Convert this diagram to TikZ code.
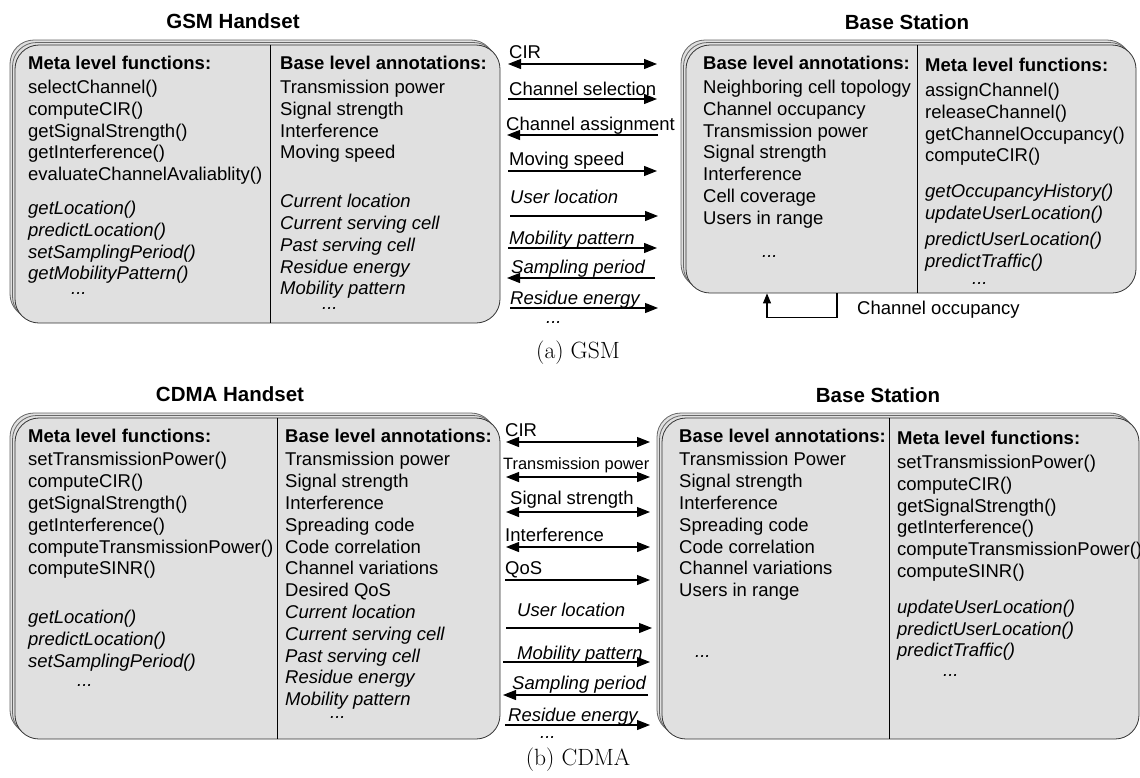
\documentclass[tikz,border=0pt]{standalone}
\usepackage{fontspec}
\setsansfont{Liberation Sans}
\usepackage{tikz}
\usetikzlibrary{arrows.meta,shadows}

\begin{document}
\begin{tikzpicture}[
    x=1pt, y=-1pt,
    >={Triangle[length=13pt, width=10pt]},
    card/.style    ={draw=black!80, line width=0.8pt, rounded corners=24pt,
                     fill=black!12, inner sep=0pt,
                     copy shadow={shadow xshift=-5pt, shadow yshift=5pt,
                                  fill=black!12, draw=black!60, line width=0.8pt},
                     copy shadow={shadow xshift=-2.5pt, shadow yshift=2.5pt,
                                  fill=black!12, draw=black!60, line width=0.8pt}},
    divider/.style ={draw=black, line width=1pt},
    title/.style   ={font=\sffamily\bfseries\fontsize{20.5}{24}\selectfont, inner sep=0pt},
    col/.style     ={anchor=north west, align=left, inner sep=0pt,
                     font=\sffamily\fontsize{18.5}{21.8}\selectfont},
    msglbl/.style  ={anchor=base west, inner sep=0pt,
                     font=\sffamily\fontsize{18.5}{21.8}\selectfont},
    msg/.style     ={->, line width=1.1pt},
    capt/.style    ={font=\rmfamily\fontsize{23.5}{28}\selectfont, inner sep=0pt}
]
\useasboundingbox (0,0) rectangle (1140,777);

% --- (a) GSM: handset and base station cards ---
\node[card, minimum width=485pt, minimum height=278pt] (gsmhs) at (257.5,184) {};
\node[card, minimum width=450pt, minimum height=248pt] (gsmbs) at (911,169) {};
\draw[divider] ([xshift=12.5pt]gsmhs.north) -- ([xshift=12.5pt]gsmhs.south);
\draw[divider] ([xshift=6pt]gsmbs.north) -- ([xshift=6pt]gsmbs.south);

\node[title] (gsmhstitle) at (233,21) {GSM Handset};
\node[title] (gsmbstitle) at (907,22) {Base Station};

\node[col] (gsmhsmeta) at (28,56) {\textbf{Meta level functions:}\\[2pt]
  selectChannel()\\ computeCIR()\\ getSignalStrength()\\ getInterference()\\
  evaluateChannelAvaliablity()\\[12pt]
  \textit{getLocation()}\\ \textit{predictLocation()}\\
  \textit{setSamplingPeriod()}\\ \textit{getMobilityPattern()}\\[-7pt]
  \hspace{43pt}\textit{...}};
\node[col] (gsmhsbase) at (280,56) {\textbf{Base level annotations:}\\[2pt]
  Transmission power\\ Signal strength\\ Interference\\ Moving speed\\[27pt]
  \textit{Current location}\\ \textit{Current serving cell}\\
  \textit{Past serving cell}\\ \textit{Residue energy}\\
  \textit{Mobility pattern}\\[-7pt]
  \hspace{42pt}\textit{...}};
\node[col] (gsmbsbase) at (703,56) {\textbf{Base level annotations:}\\[2pt]
  Neighboring cell topology\\ Channel occupancy\\ Transmission power\\
  Signal strength\\ Interference\\ Cell coverage\\ Users in range\\[11pt]
  \hspace{59pt}\textit{...}};
\node[col] (gsmbsmeta) at (925,58) {\textbf{Meta level functions:}\\[3pt]
  assignChannel()\\ releaseChannel()\\ getChannelOccupancy()\\ computeCIR()\\[14pt]
  \textit{getOccupancyHistory()}\\ \textit{updateUserLocation()}\\[4pt]
  \textit{predictUserLocation()}\\ \textit{predictTraffic()}\\[-4pt]
  \hspace{47pt}\textit{...}};

% --- (a) GSM: messages between handset and base station ---
\coordinate (ga1) at (508,64);  \coordinate (gb1) at (657,64);
\coordinate (ga2) at (508,99);  \coordinate (gb2) at (657,99);
\coordinate (ga3) at (507,135); \coordinate (gb3) at (658,135);
\coordinate (ga4) at (508,171); \coordinate (gb4) at (657,171);
\coordinate (ga5) at (510,216); \coordinate (gb5) at (658,216);
\coordinate (ga6) at (508,248); \coordinate (gb6) at (657,248);
\coordinate (ga7) at (507,278); \coordinate (gb7) at (655,278);
\coordinate (ga8) at (510,308); \coordinate (gb8) at (658,308);

\node[msglbl] (gl1) at (509,58.6)  {CIR};
\node[msglbl] (gl2) at (509,95.6)  {Channel selection};
\node[msglbl] (gl3) at (506,130.6) {Channel assignment};
\node[msglbl] (gl4) at (509,165.6) {Moving speed};
\node[msglbl] (gl5) at (510,203.6) {\textit{User location}};
\node[msglbl] (gl6) at (509,244.6) {\textit{Mobility pattern}};
\node[msglbl] (gl7) at (511,273.6) {\textit{Sampling period}};
\node[msglbl] (gl8) at (510,304.6) {\textit{Residue energy}};
\node[msglbl] (gl9) at (546,323)   {\textit{...}};

\draw[msg, <->] (ga1) -- (gb1);
\draw[msg] (ga2) -- (gb2);
\draw[msg] (gb3) -- (ga3);
\draw[msg] (ga4) -- (gb4);
\draw[msg] (ga5) -- (gb5);
\draw[msg] (ga6) -- (gb6);
\draw[msg] (gb7) -- (ga7);
\draw[msg] (ga8) -- (gb8);

% --- channel occupancy loop under the base station ---
\draw[msg, >={Triangle[length=10pt, width=8pt]}]
  ([xshift=-74pt]gsmbs.south) -- ++(0,24) -| ([xshift=-144pt]gsmbs.south);
\node[msglbl] (occlbl) at (857,314.6) {Channel occupancy};

\node[capt] (capa) at (578,353) {(a) GSM};

% --- (b) CDMA: handset and base station cards ---
\node[card, minimum width=485pt, minimum height=321pt] (cdmahs) at (257.5,578.5) {};
\node[card, minimum width=477pt, minimum height=321pt] (cdmabs) at (900.5,578.5) {};
\draw[divider] ([xshift=19.5pt]cdmahs.north) -- ([xshift=19.5pt]cdmahs.south);
\draw[divider] ([xshift=-11.5pt]cdmabs.north) -- ([xshift=-11.5pt]cdmabs.south);

\node[title] (cdmahstitle) at (230,394) {CDMA Handset};
\node[title] (cdmabstitle) at (878,395) {Base Station};

\node[col] (cdmahsmeta) at (28,429) {\textbf{Meta level functions:}\\[1.5pt]
  setTransmissionPower()\\ computeCIR()\\ getSignalStrength()\\
  getInterference()\\ computeTransmissionPower()\\ computeSINR()\\[27pt]
  \textit{getLocation()}\\ \textit{predictLocation()}\\
  \textit{setSamplingPeriod()}\\[-3pt]
  \hspace{49pt}\textit{...}};
\node[col] (cdmahsbase) at (285,429) {\textbf{Base level annotations:}\\[1.5pt]
  Transmission power\\ Signal strength\\ Interference\\ Spreading code\\
  Code correlation\\ Channel variations\\ Desired QoS\\
  \textit{Current location}\\ \textit{Current serving cell}\\
  \textit{Past serving cell}\\ \textit{Residue energy}\\
  \textit{Mobility pattern}\\[-9pt]
  \hspace{45pt}\textit{...}};
\node[col] (cdmabsbase) at (679,429) {\textbf{Base level annotations:}\\[1.5pt]
  Transmission Power\\ Signal strength\\ Interference\\ Spreading code\\
  Code correlation\\ Channel variations\\ Users in range\\[39pt]
  \hspace{16pt}\textit{...}};
\node[col] (cdmabsmeta) at (897,431) {\textbf{Meta level functions:}\\[2pt]
  setTransmissionPower()\\ computeCIR()\\ getSignalStrength()\\
  getInterference()\\ computeTransmissionPower()\\ computeSINR()\\[14pt]
  \textit{updateUserLocation()}\\ \textit{predictUserLocation()}\\
  \textit{predictTraffic()}\\[-2pt]
  \hspace{46pt}\textit{...}};

% --- (b) CDMA: messages ---
\coordinate (ca1) at (506,442); \coordinate (cb1) at (650,442);
\coordinate (ca2) at (506,477); \coordinate (cb2) at (650,477);
\coordinate (ca3) at (506,512); \coordinate (cb3) at (650,512);
\coordinate (ca4) at (506,547); \coordinate (cb4) at (650,547);
\coordinate (ca5) at (505,580); \coordinate (cb5) at (650,580);
\coordinate (ca6) at (506,628); \coordinate (cb6) at (652,628);
\coordinate (ca7) at (503,662); \coordinate (cb7) at (650,662);
\coordinate (ca8) at (503,695); \coordinate (cb8) at (648,695);
\coordinate (ca9) at (505,725); \coordinate (cb9) at (650,725);

\node[msglbl] (cl1) at (505,436.6) {CIR};
\node[msglbl, font=\sffamily\fontsize{16.4}{19}\selectfont] (cl2) at (503,469) {Transmission power};
\node[msglbl] (cl3) at (510,504.6) {Signal strength};
\node[msglbl] (cl4) at (505,541.6) {Interference};
\node[msglbl] (cl5) at (505,574.6) {QoS};
\node[msglbl] (cl6) at (517,616.6) {\textit{User location}};
\node[msglbl] (cl7) at (517,659.6) {\textit{Mobility pattern}};
\node[msglbl] (cl8) at (512,689.6) {\textit{Sampling period}};
\node[msglbl] (cl9) at (508,721.6) {\textit{Residue energy}};
\node[msglbl] (cl10) at (540,738) {\textit{...}};

\draw[msg, <->] (ca1) -- (cb1);
\draw[msg, <->] (ca2) -- (cb2);
\draw[msg, <->] (ca3) -- (cb3);
\draw[msg, <->] (ca4) -- (cb4);
\draw[msg] (ca5) -- (cb5);
\draw[msg] (ca6) -- (cb6);
\draw[msg] (ca7) -- (cb7);
\draw[msg] (cb8) -- (ca8);
\draw[msg] (ca9) -- (cb9);

\node[capt] (capb) at (578,760) {(b) CDMA};

\end{tikzpicture}
\end{document}
